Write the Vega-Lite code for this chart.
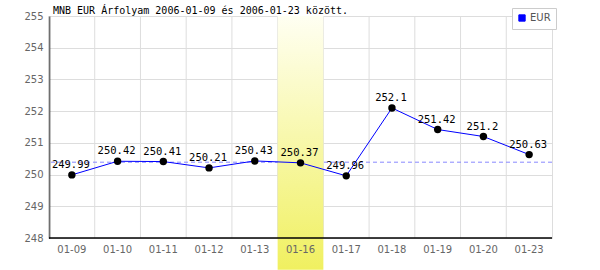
{
  "$schema": "https://vega.github.io/schema/vega-lite/v6.json",
  "width": 503,
  "height": 222,
  "autosize": "none",
  "padding": {"left": 49, "top": 16, "right": 48, "bottom": 32},
  "background": "white",
  "config": {
    "view": {"stroke": "#dddddd"},
    "font": "DejaVu Sans",
    "axisY": {
      "title": null,
      "tickCount": 7,
      "ticks": false,
      "domain": true,
      "domainColor": "#000000",
      "domainWidth": 1.5,
      "grid": true,
      "gridColor": "#dddddd",
      "labelColor": "#666666",
      "labelFont": "DejaVu Sans",
      "labelFontSize": 10,
      "labelPadding": 6,
      "labelOverlap": false
    }
  },
  "title": {
    "text": "MNB EUR Árfolyam 2006-01-09 és 2006-01-23 között.",
    "anchor": "start",
    "frame": "group",
    "font": "DejaVu Sans Mono",
    "fontSize": 10,
    "fontWeight": "normal",
    "color": "#000000",
    "offset": 2,
    "baseline": "alphabetic",
    "dx": 4,
    "dy": 18
  },
  "datasets": {
    "rates": [
      {"date": "01-09", "rate": 249.99, "series": "EUR"},
      {"date": "01-10", "rate": 250.42, "series": "EUR"},
      {"date": "01-11", "rate": 250.41, "series": "EUR"},
      {"date": "01-12", "rate": 250.21, "series": "EUR"},
      {"date": "01-13", "rate": 250.43, "series": "EUR"},
      {"date": "01-16", "rate": 250.37, "series": "EUR"},
      {"date": "01-17", "rate": 249.96, "series": "EUR"},
      {"date": "01-18", "rate": 252.1, "series": "EUR"},
      {"date": "01-19", "rate": 251.42, "series": "EUR"},
      {"date": "01-20", "rate": 251.2, "series": "EUR"},
      {"date": "01-23", "rate": 250.63, "series": "EUR"}
    ],
    "highlight": [{"date": "01-16", "top": 255, "bottom": 247}],
    "ref": [{"v": 250.39}],
    "base": [{"v": 248}]
  },
  "encoding": {
    "x": {
      "field": "date",
      "type": "ordinal",
      "scale": {
        "type": "band",
        "domain": ["01-09", "01-10", "01-11", "01-12", "01-13", "01-16", "01-17", "01-18", "01-19", "01-20", "01-23"],
        "paddingInner": 0,
        "paddingOuter": 0
      },
      "axis": {
        "title": null,
        "labelAngle": 0,
        "ticks": false,
        "domain": false,
        "grid": false,
        "zindex": 1,
        "labelColor": "#666666",
        "labelFont": "DejaVu Sans",
        "labelFontSize": 10,
        "labelPadding": 6
      }
    }
  },
  "layer": [
    {
      "data": {"name": "rates"},
      "mark": {"type": "rule", "color": "#dddddd", "strokeWidth": 1},
      "encoding": {
        "x": {"field": "date", "type": "ordinal", "bandPosition": 0}
      }
    },
    {
      "data": {"name": "ref"},
      "mark": {"type": "rule", "color": "#8888ff", "strokeDash": [4, 3], "strokeWidth": 1},
      "encoding": {
        "x": null,
        "y": {"field": "v", "type": "quantitative"}
      }
    },
    {
      "data": {"name": "highlight"},
      "mark": {
        "type": "bar",
        "clip": false,
        "color": {
          "gradient": "linear",
          "x1": 0, "y1": 0, "x2": 0, "y2": 1,
          "stops": [
            {"offset": 0, "color": "#fffff2"},
            {"offset": 1, "color": "#f0f060"}
          ]
        }
      },
      "encoding": {
        "y": {"field": "top", "type": "quantitative"},
        "y2": {"field": "bottom"}
      }
    },
    {
      "data": {"name": "base"},
      "mark": {"type": "rule", "color": "#000000", "strokeWidth": 1.5},
      "encoding": {
        "x": null,
        "y": {"field": "v", "type": "quantitative"}
      }
    },
    {
      "data": {"name": "rates"},
      "mark": {"type": "line", "strokeWidth": 1},
      "encoding": {
        "y": {
          "field": "rate",
          "type": "quantitative",
          "scale": {"domain": [248, 255], "nice": false, "zero": false}
        },
        "color": {
          "field": "series",
          "type": "nominal",
          "scale": {"domain": ["EUR"], "range": ["#0000ff"]},
          "legend": {
            "title": null,
            "orient": "none",
            "legendX": 463,
            "legendY": -8,
            "padding": 5,
            "fillColor": "#ffffff",
            "strokeColor": "#cccccc",
            "symbolType": "square",
            "symbolSize": 40,
            "symbolFillColor": "#0000ff",
            "symbolStrokeColor": "#000080",
            "symbolStrokeWidth": 1,
            "labelFont": "DejaVu Sans",
            "labelFontSize": 10,
            "labelColor": "#555555",
            "labelOffset": 3
          }
        }
      }
    },
    {
      "data": {"name": "rates"},
      "mark": {"type": "point", "filled": true, "color": "#000000", "opacity": 1, "size": 55},
      "encoding": {
        "y": {"field": "rate", "type": "quantitative"}
      }
    },
    {
      "data": {"name": "rates"},
      "mark": {
        "type": "text",
        "font": "DejaVu Sans Mono",
        "fontSize": 10.5,
        "color": "#000000",
        "baseline": "alphabetic",
        "dy": -7,
        "dx": -1
      },
      "encoding": {
        "y": {"field": "rate", "type": "quantitative"},
        "text": {"field": "rate", "type": "nominal"}
      }
    }
  ]
}
